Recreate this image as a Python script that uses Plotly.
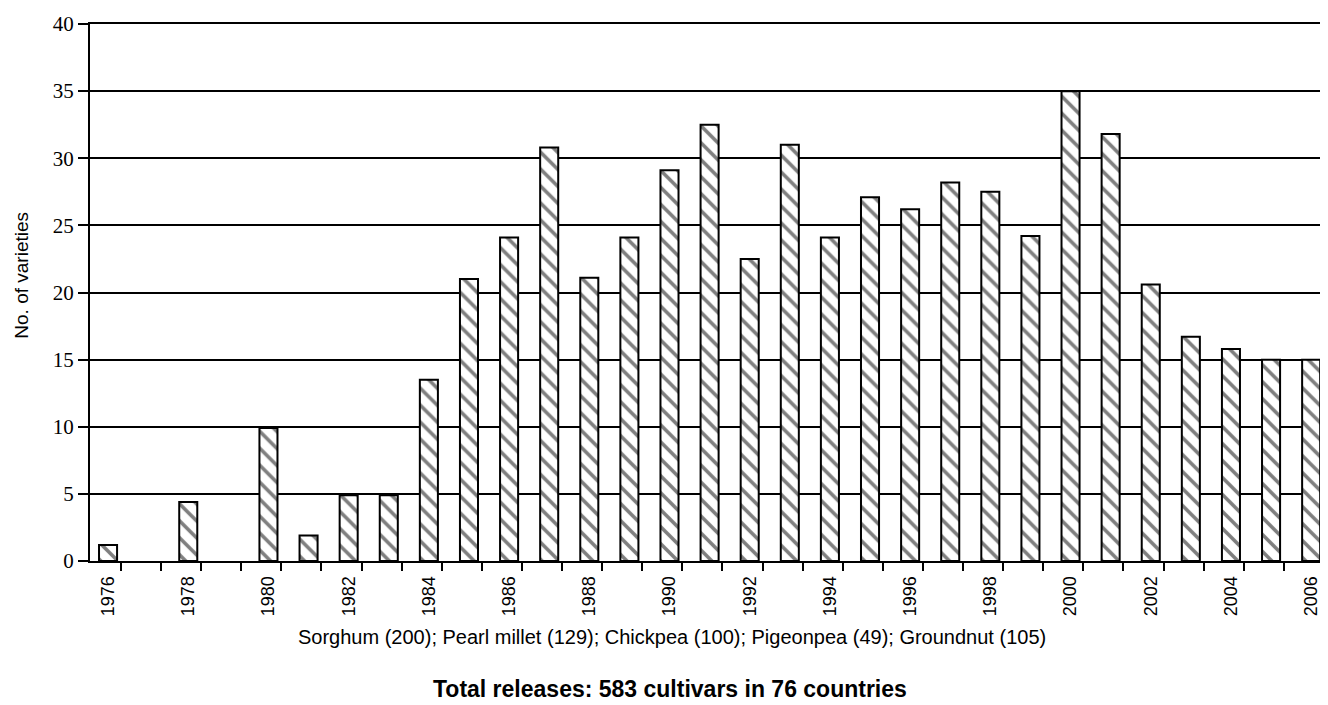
import plotly.graph_objects as go

years = list(range(1976, 2007))
varieties = [1.2, 0, 4.4, 0, 9.9, 1.9, 4.9, 4.9, 13.5, 21.0, 24.1, 30.8, 21.1, 24.1,
             29.1, 32.5, 22.5, 31.0, 24.1, 27.1, 26.2, 28.2, 27.5, 24.2, 35.0, 31.8,
             20.6, 16.7, 15.8, 15.0, 15.0]
tick_years = list(range(1976, 2007, 2))
tick_labels = [str(y) for y in tick_years]
y_ticks = [0, 5, 10, 15, 20, 25, 30, 35, 40]

crop_note = "Sorghum (200); Pearl millet (129); Chickpea (100); Pigeonpea (49); Groundnut (105)"
total_note = "<b>Total releases: 583 cultivars in 76 countries</b>"
y_title = "No. of varieties"

outline_widths = [2 if v > 0 else 0 for v in varieties]

fig = go.Figure()
fig.add_trace(go.Bar(
    x=years, y=varieties, width=0.45,
    marker=dict(color="white",
                line=dict(color="black", width=outline_widths),
                pattern=dict(shape="\\", fgcolor="black", bgcolor="white",
                             size=12, solidity=0.3)),
    showlegend=False,
))

fig.update_layout(
    width=1320, height=697,
    margin=dict(l=82, r=0, t=16, b=144),
    paper_bgcolor="white", plot_bgcolor="white",
    xaxis=dict(
        range=[1975.55, 2006.42],
        tickmode="array", tickvals=tick_years, ticktext=tick_labels,
        tickangle=-90, ticks="outside", ticklen=6, tickcolor="rgba(0,0,0,0)",
        tickfont=dict(family="Liberation Sans, Arial", size=18, color="black"),
        showgrid=False, zeroline=False,
        showline=True, linecolor="black", linewidth=2, mirror=True,
        minor=dict(ticks="outside", ticklen=8, tickwidth=2, tickcolor="black",
                   tick0=1976.32, dtick=1, showgrid=False),
    ),
    yaxis=dict(
        range=[0, 40], tickmode="array", tickvals=y_ticks,
        ticks="outside", ticklen=10, tickwidth=2, tickcolor="black",
        tickfont=dict(family="Liberation Serif, Times New Roman", size=21, color="black"),
        showgrid=True, gridcolor="black", gridwidth=1.5,
        zeroline=False, showline=True, linecolor="black", linewidth=2,
    ),
    annotations=[
        dict(text=crop_note, xref="paper", yref="paper", x=0.470, y=-0.1415,
             showarrow=False, xanchor="center", yanchor="middle",
             font=dict(family="Liberation Sans, Arial", size=20, color="black")),
        dict(text=total_note, xref="paper", yref="paper", x=0.4685, y=-0.238,
             showarrow=False, xanchor="center", yanchor="middle",
             font=dict(family="Liberation Sans, Arial", size=23, color="black")),
        dict(text=y_title, xref="paper", yref="paper", x=-0.055, y=0.533,
             showarrow=False, xanchor="center", yanchor="middle", textangle=-90,
             font=dict(family="Liberation Sans, Arial", size=19, color="black")),
    ],
)

fig.write_html("out.html")
